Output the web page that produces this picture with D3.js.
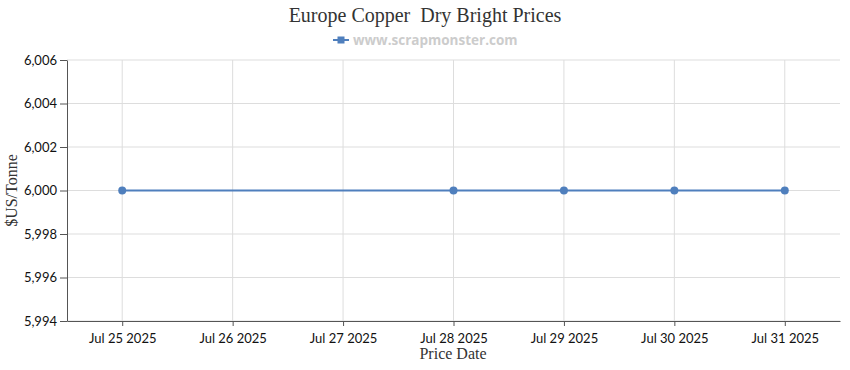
<!DOCTYPE html>
<html>
<head>
<meta charset="utf-8">
<script src="https://cdn.jsdelivr.net/npm/d3@7"></script>
<style>
  body { margin: 0; background: #fff; }
  .tick text { font-family: Lato, sans-serif; font-size: 13px; fill: #111; }
</style>
</head>
<body>
<div id="chart"></div>
<script>
// data
const dates = ["2025-07-25", "2025-07-28", "2025-07-29", "2025-07-30", "2025-07-31"];
const prices = [6000, 6000, 6000, 6000, 6000];
const yTicks = [5994, 5996, 5998, 6000, 6002, 6004, 6006];
const xTickDates = ["2025-07-25", "2025-07-26", "2025-07-27", "2025-07-28", "2025-07-29", "2025-07-30", "2025-07-31"];

const width = 850, height = 370;
const margin = {top: 60, right: 10, bottom: 49, left: 67};

const parse = d3.utcParse("%Y-%m-%d");
const points = dates.map((d, i) => ({date: parse(d), value: prices[i]}));

const svg = d3.select("#chart").append("svg")
  .attr("width", width)
  .attr("height", height);

// half a day of padding at each end
const x = d3.scaleUtc()
  .domain([d3.utcHour.offset(parse("2025-07-25"), -12), d3.utcHour.offset(parse("2025-07-31"), 12)])
  .range([margin.left, width - margin.right]);

const y = d3.scaleLinear()
  .domain([5994, 6006])
  .range([height - margin.bottom, margin.top]);

// grid
svg.append("g")
  .selectAll("line.h")
  .data(yTicks)
  .join("line")
  .attr("x1", margin.left).attr("x2", width - margin.right)
  .attr("y1", d => y(d)).attr("y2", d => y(d))
  .attr("stroke", "#dddddd");

svg.append("g")
  .selectAll("line.v")
  .data(xTickDates.map(parse))
  .join("line")
  .attr("x1", d => x(d)).attr("x2", d => x(d))
  .attr("y1", margin.top).attr("y2", height - margin.bottom)
  .attr("stroke", "#dddddd");

// axes
const fmt = d3.utcFormat("%b %-d %Y");
const xAxis = svg.append("g")
  .attr("transform", `translate(0,${height - margin.bottom})`)
  .call(d3.axisBottom(x).tickValues(xTickDates.map(parse)).tickFormat(fmt).tickSize(5).tickSizeOuter(0));
xAxis.select(".domain").attr("stroke", "#555");
xAxis.selectAll(".tick line").attr("stroke", "#555");
xAxis.selectAll(".tick text").attr("dy", "1.05em");

const yAxis = svg.append("g")
  .attr("transform", `translate(${margin.left},0)`)
  .call(d3.axisLeft(y).tickValues(yTicks).tickFormat(d3.format(",")).tickSize(7).tickSizeOuter(0));
yAxis.select(".domain").attr("stroke", "#555");
yAxis.selectAll(".tick line").attr("stroke", "#555");
yAxis.selectAll(".tick text").attr("x", -10);

// line and markers
const line = d3.line().x(d => x(d.date)).y(d => y(d.value));
svg.append("path")
  .datum(points)
  .attr("fill", "none")
  .attr("stroke", "#4f7fbd")
  .attr("stroke-width", 2)
  .attr("d", line);

svg.append("g")
  .selectAll("circle")
  .data(points)
  .join("circle")
  .attr("cx", d => x(d.date))
  .attr("cy", d => y(d.value))
  .attr("r", 4)
  .attr("fill", "#4f7fbd");

// titles
svg.append("text")
  .attr("x", 425).attr("y", 22)
  .attr("text-anchor", "middle")
  .attr("font-family", "Liberation Serif, serif")
  .attr("font-size", 20)
  .attr("fill", "#333")
  .attr("xml:space", "preserve")
  .text("Europe Copper  Dry Bright Prices");

// legend
const lg = svg.append("g").attr("transform", "translate(333,40)");
lg.append("line").attr("x1", 0).attr("x2", 16).attr("y1", 0).attr("y2", 0)
  .attr("stroke", "#4f7fbd").attr("stroke-width", 2);
lg.append("rect").attr("x", 4.5).attr("y", -3.5).attr("width", 7).attr("height", 7)
  .attr("fill", "#4f7fbd");
lg.append("text")
  .attr("x", 20).attr("y", 4.5)
  .attr("font-family", "Open Sans, sans-serif")
  .attr("font-weight", "bold")
  .attr("font-size", 13.5)
  .attr("fill", "#cccccc")
  .text("www.scrapmonster.com");

svg.append("text")
  .attr("x", 453).attr("y", 359)
  .attr("text-anchor", "middle")
  .attr("font-family", "Liberation Serif, serif")
  .attr("font-size", 16)
  .attr("fill", "#333")
  .text("Price Date");

svg.append("text")
  .attr("transform", `translate(17,${(margin.top + height - margin.bottom) / 2}) rotate(-90)`)
  .attr("text-anchor", "middle")
  .attr("font-family", "Liberation Serif, serif")
  .attr("font-size", 16)
  .attr("fill", "#333")
  .text("$US/Tonne");
</script>
</body>
</html>
